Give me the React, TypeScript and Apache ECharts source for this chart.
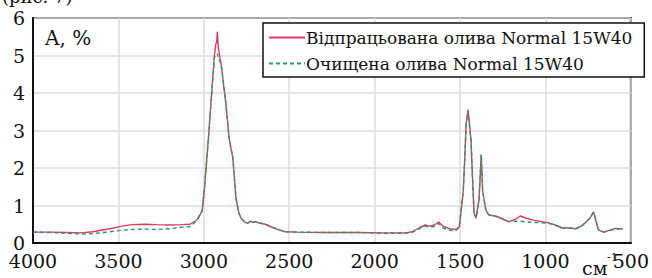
import React, { useEffect, useRef } from "react";
import * as echarts from "echarts";

// Wavenumbers, cm-1 (descending)
const wavenumbers = [
  4000, 3900, 3800, 3720, 3650, 3550, 3480, 3420, 3350, 3280, 3200, 3130, 3080, 3040, 3010,
  2996, 2985, 2973, 2956, 2938, 2930, 2925, 2921, 2915, 2898, 2870, 2852, 2840, 2830, 2812,
  2795, 2783, 2760, 2743, 2725, 2710, 2698, 2680, 2640, 2600, 2560, 2525, 2450, 2300, 2100,
  1950, 1820, 1780, 1740, 1705, 1680, 1650, 1625, 1600, 1560, 1525, 1504, 1481, 1472, 1464,
  1453, 1436, 1424, 1418, 1406, 1389, 1376, 1368, 1349, 1332, 1300, 1280, 1240, 1217, 1180,
  1148, 1110, 1073, 1020, 976, 930, 902, 860, 822, 790, 764, 740, 718, 705, 690,
  660, 630, 592, 560, 546,
];

// Відпрацьована олива (used oil)
const usedOil = [
  0.29, 0.29, 0.28, 0.27, 0.3, 0.38, 0.45, 0.49, 0.5, 0.49, 0.48, 0.49, 0.5, 0.62, 0.85,
  1.47, 2.1, 2.8, 3.87, 5.0, 5.3, 5.35, 5.63, 5.2, 4.75, 3.68, 2.8, 2.5, 2.27, 1.2,
  0.8, 0.67, 0.55, 0.53, 0.58, 0.55, 0.57, 0.54, 0.5, 0.42, 0.35, 0.3, 0.29, 0.28, 0.28,
  0.27, 0.27, 0.3, 0.4, 0.48, 0.45, 0.48, 0.56, 0.45, 0.38, 0.36, 0.43, 1.4, 2.3, 3.2,
  3.55, 2.75, 1.4, 0.8, 0.67, 1.15, 2.35, 1.4, 0.88, 0.75, 0.72, 0.7, 0.62, 0.57, 0.62,
  0.72, 0.66, 0.61, 0.57, 0.53, 0.46, 0.4, 0.4, 0.38, 0.45, 0.55, 0.66, 0.83, 0.6, 0.35,
  0.29, 0.33, 0.39, 0.37, 0.38,
];

// Очищена олива (cleaned oil)
const cleanedOil = [
  0.29, 0.28, 0.26, 0.24, 0.25, 0.3, 0.34, 0.36, 0.37, 0.36, 0.38, 0.42, 0.44, 0.6, 0.85,
  1.47, 2.1, 2.8, 3.87, 4.95, 5.0, 5.0, 5.05, 4.95, 4.75, 3.68, 2.8, 2.5, 2.27, 1.2,
  0.8, 0.67, 0.55, 0.53, 0.58, 0.55, 0.57, 0.54, 0.5, 0.42, 0.35, 0.3, 0.29, 0.28, 0.28,
  0.26, 0.26, 0.28, 0.38, 0.45, 0.42, 0.44, 0.52, 0.4, 0.34, 0.33, 0.43, 1.4, 2.3, 3.2,
  3.5, 2.75, 1.4, 0.8, 0.67, 1.15, 2.35, 1.4, 0.88, 0.75, 0.72, 0.7, 0.62, 0.57, 0.58,
  0.58, 0.56, 0.55, 0.54, 0.52, 0.45, 0.4, 0.4, 0.38, 0.45, 0.55, 0.66, 0.83, 0.6, 0.35,
  0.29, 0.32, 0.37, 0.38, 0.38,
];

const seriesNames = [
  "Відпрацьована олива Normal 15W40",
  "Очищена олива Normal 15W40",
];

const FONT = "'DejaVu Serif', 'Liberation Serif', serif";
const RED = "#e23a5c";
const GREEN = "#279a6a";

export default function App() {
  const ref = useRef<HTMLDivElement>(null);

  useEffect(() => {
    if (!ref.current) return;
    const chart = echarts.init(ref.current, null, { renderer: "svg" });
    const pairs = (vals: number[]) => wavenumbers.map((w, i) => [w, vals[i]]);
    chart.setOption({
      animation: false,
      backgroundColor: "#ffffff",
      grid: {
        left: 33,
        right: 9,
        top: 18,
        bottom: 35,
        show: true,
        borderColor: "#111",
        borderWidth: 2,
        backgroundColor: "#fff",
      },
      legend: {
        orient: "vertical",
        left: 263,
        top: 23,
        padding: [6, 12, 5, 5],
        itemGap: 9,
        itemWidth: 36,
        itemHeight: 14,
        borderColor: "#111",
        borderWidth: 1.5,
        backgroundColor: "#fff",
        itemStyle: { opacity: 0 },
        textStyle: { fontFamily: FONT, fontSize: 17, color: "#111", padding: [0, 0, 0, -4] },
        data: seriesNames,
      },
      xAxis: {
        type: "value",
        min: 500,
        max: 4000,
        interval: 500,
        inverse: true,
        axisLine: { show: true, lineStyle: { color: "#111", width: 2 } },
        axisTick: { show: false },
        axisLabel: {
          fontFamily: FONT,
          fontSize: 19,
          color: "#111",
          margin: 8,
          formatter: (v: number) => String(v),
        },
        splitLine: { show: true, lineStyle: { color: "#dcdcdc", width: 1.5 } },
      },
      yAxis: {
        type: "value",
        min: 0,
        max: 6,
        interval: 1,
        axisLine: { show: true, lineStyle: { color: "#111", width: 2 } },
        axisTick: { show: false },
        axisLabel: { fontFamily: FONT, fontSize: 19, color: "#111", margin: 8 },
        splitLine: { show: true, lineStyle: { color: "#dcdcdc", width: 1.5 } },
      },
      series: [
        {
          name: seriesNames[0],
          type: "line",
          data: pairs(usedOil),
          showSymbol: false,
          symbol: "none",
          lineStyle: { color: RED, width: 1.4 },
          itemStyle: { color: RED },
          z: 2,
        },
        {
          name: seriesNames[1],
          type: "line",
          data: pairs(cleanedOil),
          showSymbol: false,
          symbol: "none",
          lineStyle: { color: GREEN, width: 1.4, type: [4, 3] },
          itemStyle: { color: GREEN },
          z: 3,
        },
      ],
      graphic: [
        {
          type: "text",
          x: 45,
          y: 28,
          style: { text: "A, %", font: `20px ${FONT}`, fill: "#111", textVerticalAlign: "top" },
          z: 10,
        },
        {
          type: "text",
          x: 582,
          y: 258,
          style: { text: "см", font: `19px ${FONT}`, fill: "#111", textVerticalAlign: "top" },
          z: 10,
        },
        {
          type: "text",
          x: 607,
          y: 252,
          style: { text: "-1", font: `11px ${FONT}`, fill: "#111", textVerticalAlign: "top" },
          z: 10,
        },
        {
          type: "text",
          x: 2,
          y: 5,
          style: { text: "(рис. 7)", font: `18px ${FONT}`, fill: "#111", textVerticalAlign: "bottom" },
          z: 10,
        },
      ],
    });
    return () => chart.dispose();
  }, []);

  return (
    <div
      ref={ref}
      style={{ position: "fixed", left: 0, top: 0, width: 652, height: 278, background: "#fff" }}
    />
  );
}
